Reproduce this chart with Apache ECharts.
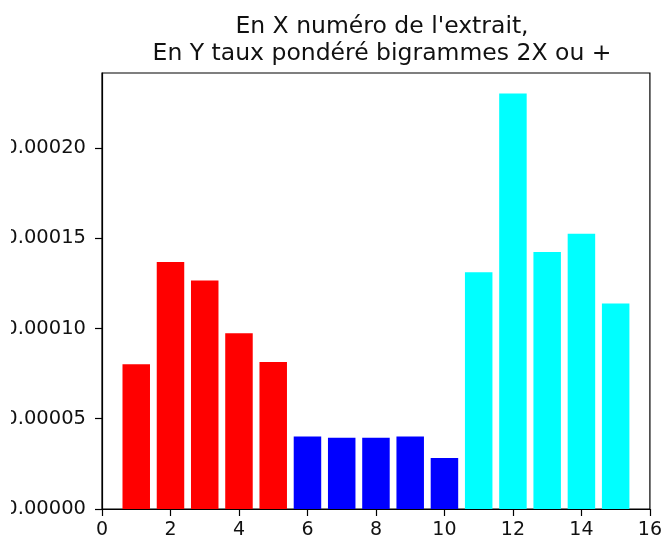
<!DOCTYPE html>
<html>
<head>
<meta charset="utf-8">
<script src="https://cdn.jsdelivr.net/npm/echarts@6/dist/echarts.min.js"></script>
<style>
  html, body { margin: 0; padding: 0; background: #fff; }
  #chart { width: 665px; height: 540px; }
</style>
</head>
<body>
<div id="chart"></div>
<script>
// extraits 1-5 / 6-10 / 11-15
var xRed = [1, 2, 3, 4, 5];
var yRed = [0.0000802, 0.0001368, 0.0001265, 0.0000974, 0.0000814];
var xBlue = [6, 7, 8, 9, 10];
var yBlue = [0.0000401, 0.0000394, 0.0000394, 0.0000401, 0.0000283];
var xCyan = [11, 12, 13, 14, 15];
var yCyan = [0.0001312, 0.0002302, 0.0001423, 0.0001524, 0.0001138];
var yTicks = [0, 0.00005, 0.0001, 0.00015, 0.0002];

var font = 'DejaVu Sans';
var chart = echarts.init(document.getElementById('chart'));

function pairs(xs, ys) {
  var out = [];
  for (var i = 0; i < xs.length; i++) out.push([xs[i], ys[i]]);
  return out;
}

function barSerie(xs, ys, color) {
  return {
    type: 'bar',
    data: pairs(xs, ys),
    barWidth: 27.5,
    barGap: '-100%',
    itemStyle: { color: color },
    silent: true
  };
}

var option = {
  animation: false,
  backgroundColor: '#fff',
  title: {
    text: "En X numéro de l'extrait,\nEn Y taux pondéré bigrammes 2X ou +",
    left: 377,
    textAlign: 'center',
    top: 8,
    textStyle: { fontFamily: font, fontSize: 23.5, fontWeight: 'normal', color: '#111', lineHeight: 27 }
  },
  grid: {
    left: 102, right: 12, top: 73, bottom: 30,
    show: true, borderColor: '#000', borderWidth: 1.2, backgroundColor: '#fff'
  },
  xAxis: {
    type: 'value',
    min: 0, max: 16, interval: 2,
    splitLine: { show: false },
    axisLine: { show: true, lineStyle: { color: '#000', width: 1.2 } },
    axisTick: { show: true, inside: false, length: 7, lineStyle: { color: '#000', width: 1.2 } },
    axisLabel: { margin: 12, fontFamily: font, fontSize: 19, color: '#111', showMinLabel: true, showMaxLabel: true }
  },
  yAxis: {
    type: 'value',
    min: 0, max: 0.0002415,
    splitLine: { show: false },
    axisLine: { show: true, lineStyle: { color: '#000', width: 1.2 } },
    axisTick: { show: true, inside: false, length: 7, customValues: yTicks, lineStyle: { color: '#000', width: 1.2 } },
    axisLabel: {
      margin: 16, fontFamily: font, fontSize: 19.5, color: '#111',
      customValues: yTicks,
      formatter: function (v) { return v.toFixed(5); }
    }
  },
  // the reference image is cropped on the left, cutting the first digit
  graphic: [{
    type: 'rect', left: 0, top: 0, z: 100,
    shape: { width: 11, height: 540 },
    style: { fill: '#fff' }
  }],
  series: [
    barSerie(xRed, yRed, '#ff0000'),
    barSerie(xBlue, yBlue, '#0000ff'),
    barSerie(xCyan, yCyan, '#00ffff')
  ]
};

chart.setOption(option);
</script>
</body>
</html>
